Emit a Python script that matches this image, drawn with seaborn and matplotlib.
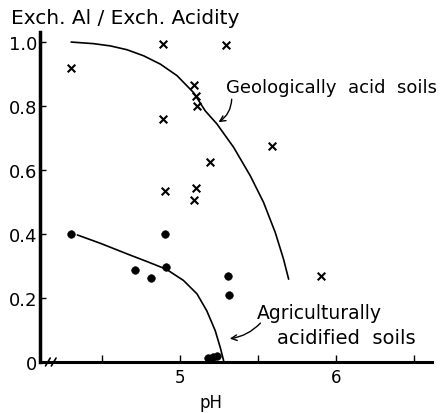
import numpy as np
import pandas as pd
import seaborn as sns
import matplotlib.pyplot as plt

# crosses: geologically acid soils
cross_ph = [4.30, 4.89, 5.29, 5.09, 5.10, 5.11, 4.89, 5.59, 5.19, 4.90, 5.10, 5.09, 5.90]
cross_ratio = [0.92, 0.995, 0.99, 0.865, 0.83, 0.80, 0.76, 0.675, 0.625, 0.535, 0.545, 0.505, 0.27]

# dots: agriculturally acidified soils
dot_ph = [4.30, 4.71, 4.81, 4.90, 4.91, 5.305, 5.31, 5.18, 5.21, 5.235]
dot_ratio = [0.40, 0.289, 0.262, 0.40, 0.296, 0.27, 0.21, 0.012, 0.016, 0.02]

# hand drawn curves
geo_ph = [4.30, 4.444, 4.551, 4.658, 4.765, 4.872, 4.979, 5.085, 5.16, 5.235,
          5.342, 5.449, 5.534, 5.609, 5.662, 5.695]
geo_ratio = [1.00, 0.995, 0.988, 0.976, 0.957, 0.931, 0.895, 0.842, 0.785, 0.744,
             0.671, 0.582, 0.499, 0.405, 0.322, 0.259]
agri_ph = [4.34, 4.487, 4.658, 4.786, 4.91, 5.02, 5.107, 5.17, 5.224, 5.256, 5.278]
agri_ratio = [0.397, 0.371, 0.338, 0.314, 0.29, 0.255, 0.213, 0.16, 0.098, 0.046, 0.004]

y_ticks = [0, 0.2, 0.4, 0.6, 0.8, 1.0]
y_tick_labels = ["0", "0.2", "0.4", "0.6", "0.8", "1.0"]
x_ticks = [4.5, 5, 5.5, 6, 6.5]
x_tick_labels = ["", "5", "", "6", ""]

sns.set_style("ticks")
plt.rcParams["font.family"] = ["DejaVu Sans"]
plt.rcParams.update({"text.color": "black", "axes.labelcolor": "black",
                     "xtick.color": "black", "ytick.color": "black",
                     "axes.edgecolor": "black"})

fig = plt.figure(figsize = (4.41, 4.14), dpi = 100)
ax = fig.add_axes([0.0907, 0.1232, 0.889, 0.796])

crosses = pd.DataFrame({"pH": cross_ph, "ratio": cross_ratio})
dots = pd.DataFrame({"pH": dot_ph, "ratio": dot_ratio})
geo = pd.DataFrame({"pH": geo_ph, "ratio": geo_ratio})
agri = pd.DataFrame({"pH": agri_ph, "ratio": agri_ratio})

sns.lineplot(data = geo, x = "pH", y = "ratio", sort = False, estimator = None,
             color = "black", linewidth = 1.2, ax = ax)
sns.lineplot(data = agri, x = "pH", y = "ratio", sort = False, estimator = None,
             color = "black", linewidth = 1.2, ax = ax)
sns.scatterplot(data = crosses, x = "pH", y = "ratio", marker = "x", s = 30,
                color = "black", linewidth = 1.5, ax = ax, clip_on = False)
sns.scatterplot(data = dots, x = "pH", y = "ratio", marker = "o", s = 30,
                color = "black", edgecolor = "black", ax = ax, clip_on = False)

ax.set_xlim(4.10, 6.615)
ax.set_ylim(0, 1.03)
sns.despine(ax = ax)
ax.spines["left"].set_linewidth(2.5)
ax.spines["bottom"].set_linewidth(2.2)

ax.set_yticks(y_ticks)
ax.set_yticklabels(y_tick_labels)
ax.set_xticks(x_ticks)
ax.set_xticklabels(x_tick_labels)
ax.tick_params(axis = "y", direction = "in", length = 4, width = 1, pad = 2, labelsize = 13)
ax.tick_params(axis = "x", direction = "in", length = 5, width = 1, pad = 4, labelsize = 12)

ax.set_xlabel("pH", fontsize = 12)
ax.xaxis.set_label_coords(0.437, -0.095)
ax.set_ylabel("")
fig.text(0.025, 0.955, "Exch. Al / Exch. Acidity", fontsize = 14.5, ha = "left", va = "center")

# axis break mark
for bx in [0.02, 0.035]:
    ax.plot([bx - 0.006, bx + 0.006], [-0.012, 0.012], transform = ax.transAxes,
            color = "black", linewidth = 1.2, clip_on = False)

ax.text(5.29, 0.86, "Geologically  acid  soils", fontsize = 13, ha = "left", va = "center")
ax.annotate("", xy = (5.23, 0.745), xytext = (5.33, 0.83),
            arrowprops = dict(arrowstyle = "->", color = "black", linewidth = 1,
                              connectionstyle = "arc3,rad=-0.3"))
ax.text(5.49, 0.156, "Agriculturally", fontsize = 13.5, ha = "left", va = "center")
ax.text(5.62, 0.078, "acidified  soils", fontsize = 14, ha = "left", va = "center")
ax.annotate("", xy = (5.30, 0.072), xytext = (5.526, 0.128),
            arrowprops = dict(arrowstyle = "->", color = "black", linewidth = 1,
                              connectionstyle = "arc3,rad=-0.2"))

fig.savefig("out.png", dpi = 100)
